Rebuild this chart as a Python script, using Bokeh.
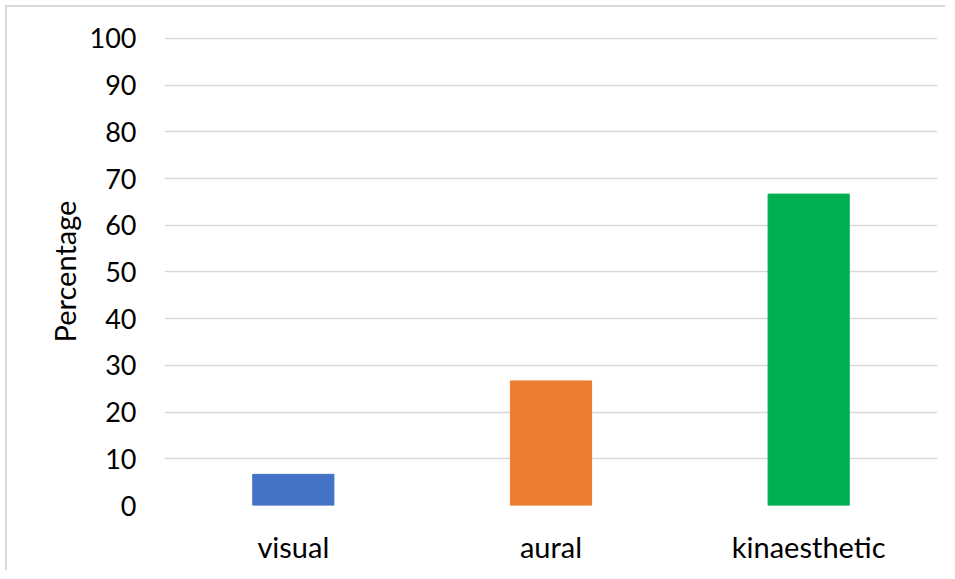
from bokeh.plotting import figure
from bokeh.models import FactorRange, Range1d, ColumnDataSource, FixedTicker
from bokeh.embed import file_html
from bokeh.resources import INLINE

categories = ["visual", "aural", "kinaesthetic"]
percentages = [6.67, 26.67, 66.67]
colors = ["#4472C4", "#ED7D31", "#00B050"]
y_ticks = [0, 10, 20, 30, 40, 50, 60, 70, 80, 90, 100]

src = ColumnDataSource(dict(cat=categories, val=percentages, color=colors))

p = figure(width=940, height=565, x_range=FactorRange(*categories),
           y_range=Range1d(0, 100.2), output_backend="svg", toolbar_location=None,
           min_border_left=157, min_border_right=10, min_border_top=30, min_border_bottom=67)
p.vbar(x="cat", top="val", width=0.315, color="color", source=src)

p.outline_line_color = None
p.xgrid.grid_line_color = None
p.ygrid.grid_line_color = "#d9d9d9"
p.ygrid.grid_line_width = 1.5
p.yaxis.ticker = FixedTicker(ticks=y_ticks)

font = "Lato"
for ax in (p.xaxis, p.yaxis):
    ax.axis_line_color = None
    ax.major_tick_line_color = None
    ax.minor_tick_line_color = None
    ax.major_label_text_font = font
    ax.major_label_text_color = "#000000"
p.yaxis.major_label_text_font_size = "27px"
p.xaxis.major_label_text_font_size = "29px"
p.yaxis.major_label_standoff = 22
p.xaxis.major_label_standoff = 17
p.yaxis.axis_label = "Percentage"
p.yaxis.axis_label_text_font = font
p.yaxis.axis_label_text_font_size = "29px"
p.yaxis.axis_label_text_font_style = "normal"
p.yaxis.axis_label_text_color = "#000000"
p.yaxis.axis_label_standoff = 5
p.styles = {"border-left": "2px solid #d9d9d9", "border-top": "2px solid #d9d9d9",
            "margin-left": "5px", "margin-top": "5px"}

open("out.html", "w").write(file_html(p, INLINE))
